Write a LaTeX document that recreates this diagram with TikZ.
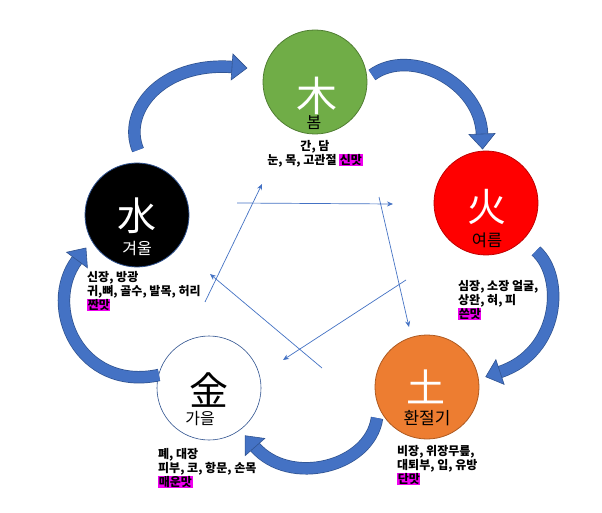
\documentclass[tikz,border=0pt]{standalone}
\usepackage{fontspec}
\setmainfont{Noto Sans CJK KR}
\usetikzlibrary{arrows.meta,calc}
\definecolor{arrowblue}{RGB}{68,114,196}
\definecolor{arrowdark}{RGB}{47,82,143}
\definecolor{woodgreen}{RGB}{112,173,71}
\definecolor{woodedge}{RGB}{80,126,50}
\definecolor{firered}{RGB}{255,0,0}
\definecolor{fireedge}{RGB}{192,0,0}
\definecolor{earthorange}{RGB}{237,125,49}
\definecolor{earthedge}{RGB}{174,90,33}
\definecolor{hilite}{RGB}{240,0,240}
\newcommand{\hlt}[1]{{\setlength{\fboxsep}{0.6pt}\colorbox{hilite}{#1}}}
% #1 start, #2 control 1, #3 control 2, #4 end of body (all named coordinates)
\newcommand{\cyclearrow}[4]{%
  \draw[line width=12.4pt, arrowdark] (#1) .. controls (#2) and (#3) .. (#4);
  \draw[line width=11pt, arrowblue] (#1) .. controls (#2) and (#3) .. (#4);
  \filldraw[fill=arrowblue, draw=arrowdark, line width=0.6pt, line join=miter]
    ($(#4)!13pt!90:(#3)$) -- ($(#4)!-15pt!(#3)$) -- ($(#4)!13pt!-90:(#3)$) -- cycle;}
\begin{document}
\begin{tikzpicture}[x=1pt,y=1pt,
  element/.style={circle, minimum size=104pt, inner sep=0pt, line width=0.8pt},
  bigchar/.style={font=\fontsize{39}{41}\selectfont, inner sep=0pt},
  season/.style={font=\fontsize{16}{18}\selectfont, inner sep=0pt},
  organs/.style={font=\fontsize{12}{14}\selectfont\bfseries, inner sep=0pt, anchor=north west, align=left},
  cheuk/.style={draw=arrowblue, line width=0.7pt, -{Stealth[length=6pt,width=5pt]}}]
\useasboundingbox (0,0) rectangle (602,512);
\fill[white] (0,0) rectangle (602,512);

% element circles
\node[element, fill=woodgreen, draw=woodedge] (wood) at (315,430) {};
\node[element, fill=firered, draw=fireedge] (fire) at (486,309) {};
\node[element, fill=earthorange, draw=earthedge] (earth) at (427,125) {};
\node[element, fill=white, draw=arrowdark, line width=0.6pt] (metal) at (209,124) {};
\node[element, fill=black, draw=arrowdark] (water) at (137,297) {};

% big characters
\node[bigchar, white, font=\fontsize{41}{43}\selectfont] (woodch) at (317,416) {木};
\node[bigchar, white] (firech) at (487,305) {火};
\node[bigchar, white] (waterch) at (137,296) {水};
\node[bigchar, black] (metalch) at (209,122) {金};
\node[bigchar, white] (earthch) at (426,125) {土};

% seasons
\node[season, black] (woodss) at (314,389) {봄};
\node[season, font=\fontsize{16.5}{18}\selectfont, black] (firess) at (487,272) {여름};
\node[season, white] (waterss) at (137,264) {겨울};
\node[season, black] (metalss) at (200,94) {가을};
\node[season, font=\fontsize{17}{19}\selectfont, black] (earthss) at (427,94) {환절기};

% organ texts
\node[organs, anchor=north, align=center] (woodtx) at (315,372) {간, 담\\눈, 목, 고관절 \hlt{신맛}};
\node[organs] (firetx) at (458,232) {심장, 소장 얼굴,\\상완, 혀, 피\\\hlt{쓴맛}};
\node[organs] (watertx) at (87,241) {신장, 방광\\귀,뼈, 골수, 발목, 허리\\\hlt{짠맛}};
\node[organs] (metaltx) at (158,64) {폐, 대장\\피부, 코, 항문, 손목\\\hlt{매운맛}};
\node[organs] (earthtx) at (397,67) {비장, 위장무릎,\\대퇴부, 입, 유방\\\hlt{단맛}};

% generating cycle (big curved arrows)
\coordinate (aS) at ($(water)+(1,65)$);   \coordinate (aE) at ($(wood)+(-83,15)$);
\coordinate (bS) at ($(wood)+(57,7)$);    \coordinate (bE) at ($(fire)+(-4,69)$);
\coordinate (cS) at ($(fire)+(50,-48)$);  \coordinate (cE) at ($(earth)+(73,15)$);
\coordinate (dS) at ($(earth)+(-50,-31)$);\coordinate (dE) at ($(metal)+(46,-59)$);
\coordinate (eS) at ($(metal)+(-50,13)$); \coordinate (eE) at ($(water)+(-60,-45)$);
\coordinate (a1) at (122,400); \coordinate (a2) at (160,450);
\coordinate (b1) at (410,465); \coordinate (b2) at (480,430);
\coordinate (c1) at (565,235); \coordinate (c2) at (560,160);
\coordinate (d1) at (370,45);  \coordinate (d2) at (290,25);
\coordinate (e1) at (80,120);  \coordinate (e2) at (42,205);
\cyclearrow{aS}{a1}{a2}{aE}
\cyclearrow{bS}{b1}{b2}{bE}
\cyclearrow{cS}{c1}{c2}{cE}
\cyclearrow{dS}{d1}{d2}{dE}
\cyclearrow{eS}{e1}{e2}{eE}

% controlling cycle (thin arrows)
\coordinate (k1s) at (205,210); \coordinate (k1e) at (262,328);
\coordinate (k2s) at (237,309); \coordinate (k2e) at (393,308);
\coordinate (k3s) at (379,315); \coordinate (k3e) at (409,185);
\coordinate (k4s) at (406,232); \coordinate (k4e) at (283,152);
\coordinate (k5s) at (322,144); \coordinate (k5e) at (210,238);
\draw[cheuk] (k1s) -- (k1e);
\draw[cheuk] (k2s) -- (k2e);
\draw[cheuk] (k3s) -- (k3e);
\draw[cheuk] (k4s) -- (k4e);
\draw[cheuk] (k5s) -- (k5e);
\end{tikzpicture}
\end{document}
